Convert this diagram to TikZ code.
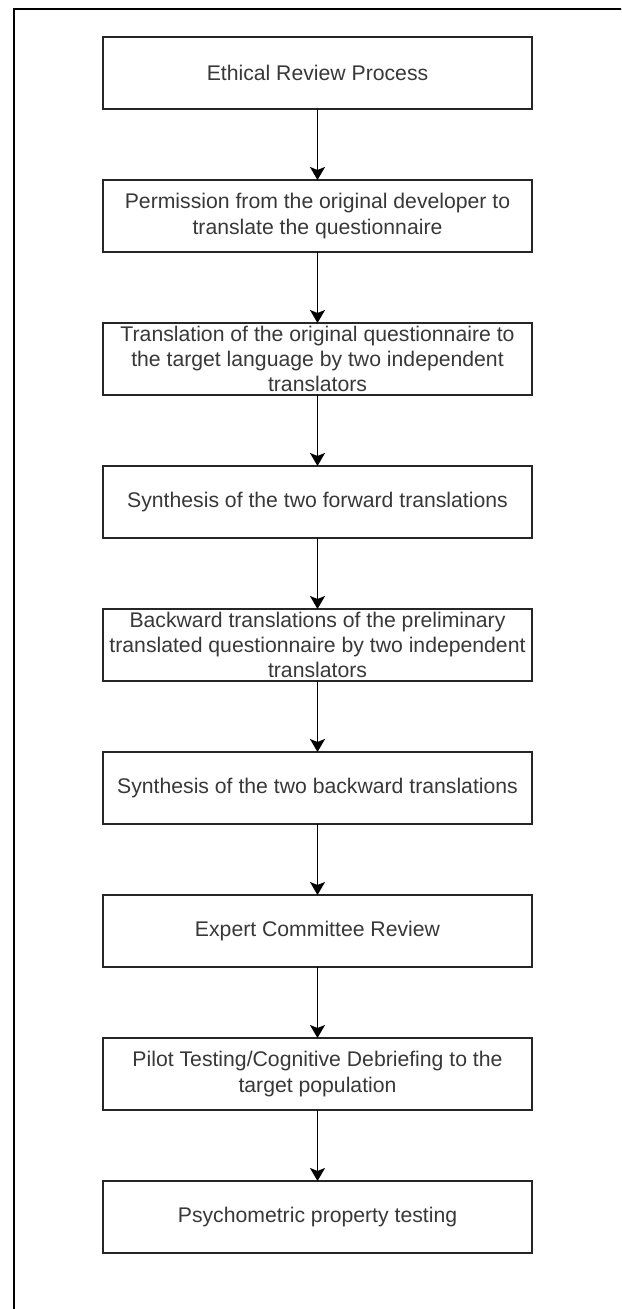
\documentclass[tikz,border=0pt]{standalone}
\usepackage{fontspec}
\setmainfont{Liberation Sans}
\usetikzlibrary{arrows.meta}
\tikzset{stagebox/.style={draw=black!85,line width=0.8pt,fill=white,minimum width=214.5pt,minimum height=36pt,
    inner sep=0pt,outer sep=0pt,align=center,text=black!78,font=\fontsize{10.6pt}{12.6pt}\selectfont},
  flowarrow/.style={draw=black,line width=0.8pt,-{Stealth[width=7.5pt,length=6.5pt,inset=1.5pt]}}}

\begin{document}
\begin{tikzpicture}[x=0.5pt,y=-0.5pt]
            \useasboundingbox (0,0) rectangle (621,1309); \clip (0,0) rectangle (621,1309);
            \fill[white] (0,0) rectangle (621,1309);
            \draw[line width=1.2pt] (14,9) rectangle (660,1360);
            \node[stagebox] (ethics) at (317.5,73) {Ethical Review Process};
            \node[stagebox] (permit) at (317.5,216) {Permission from the original developer to\\translate the questionnaire};
            \node[stagebox] (fwdtrans) at (317.5,359) {Translation of the original questionnaire to\\the target language by two independent\\translators};
            \node[stagebox] (fwdsynth) at (317.5,502) {Synthesis of the two forward translations};
            \node[stagebox] (backtrans) at (317.5,645) {Backward translations of the preliminary\\translated questionnaire by two independent\\translators};
            \node[stagebox] (backsynth) at (317.5,788) {Synthesis of the two backward translations};
            \node[stagebox] (expert) at (317.5,931) {Expert Committee Review};
            \node[stagebox] (pilot) at (317.5,1074) {Pilot Testing/Cognitive Debriefing to the\\target population};
            \node[stagebox] (psycho) at (317.5,1217) {Psychometric property testing};
            \draw[flowarrow] (ethics) -- (permit); \draw[flowarrow] (permit) -- (fwdtrans); \draw[flowarrow] (fwdtrans) -- (fwdsynth);
            \draw[flowarrow] (fwdsynth) -- (backtrans); \draw[flowarrow] (backtrans) -- (backsynth); \draw[flowarrow] (backsynth) -- (expert);
            \draw[flowarrow] (expert) -- (pilot); \draw[flowarrow] (pilot) -- (psycho);
        \end{tikzpicture}
\end{document}
